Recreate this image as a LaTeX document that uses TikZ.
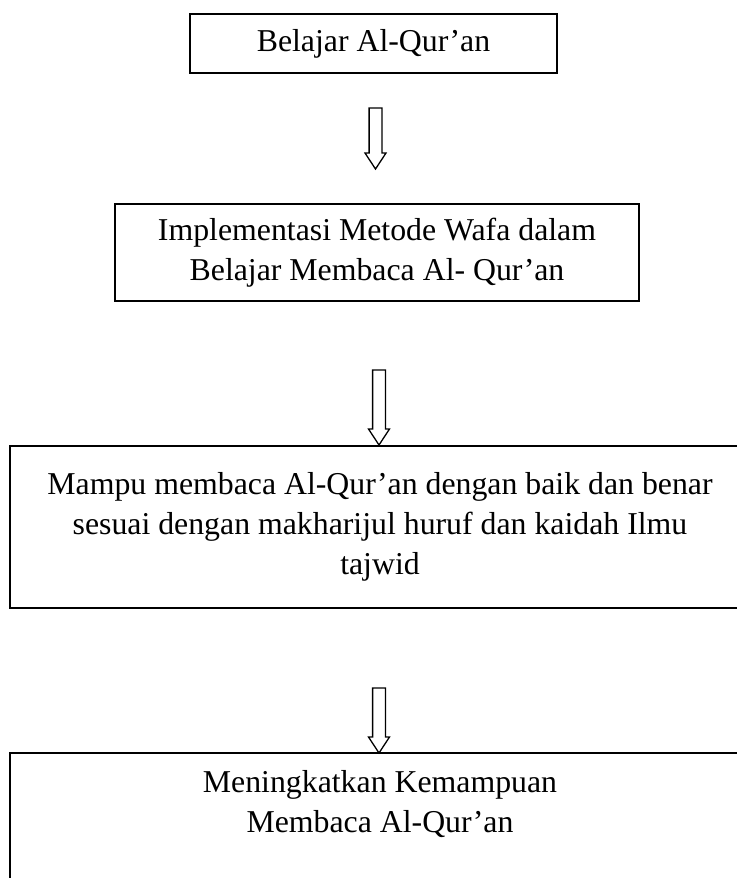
\documentclass[tikz,border=0pt]{standalone}
\usepackage{fontspec}
\setmainfont{Liberation Serif}
\usetikzlibrary{positioning}
\tikzset{
  kotak/.style={draw,line width=0.9pt,align=center,inner sep=0pt,anchor=north,
    font=\fontsize{15.9}{20}\selectfont},
  panah/.pic={\draw[line width=0.65pt,line join=miter]
    (-3.2,0) -- (3.2,0) -- (3.2,#1-8) -- (5.25,#1-8) -- (0,#1)
    -- (-5.25,#1-8) -- (-3.2,#1-8) -- cycle;},
}

\begin{document}
\begin{tikzpicture}[x=1pt,y=-1pt]
  \useasboundingbox (0,0) rectangle (368,439);
  % alur kerangka berpikir
  \node[kotak,minimum width=183.5pt,minimum height=29.5pt] (belajar) at (186.75,6.5) {Belajar Al-Qur’an};
  \pic (p1) at (187.75,54) {panah=30.5};
  \node[kotak,minimum width=262pt,minimum height=48.5pt] (wafa) at (188.5,101.5)
    {Implementasi Metode Wafa dalam\\Belajar Membaca Al- Qur’an};
  \pic (p2) at (189.5,185) {panah=37.5};
  \node[kotak,minimum width=370pt,minimum height=81pt] (mampu) at (190,222.5)
    {Mampu membaca Al-Qur’an dengan baik dan benar\\sesuai dengan makharijul huruf dan kaidah Ilmu\\tajwid};
  \pic (p3) at (189.5,344) {panah=32.5};
  \node[kotak,minimum width=370pt,minimum height=69pt] (tingkat) at (190,376)
    {Meningkatkan Kemampuan\\Membaca Al-Qur’an\\\mbox{}};
\end{tikzpicture}
\end{document}
